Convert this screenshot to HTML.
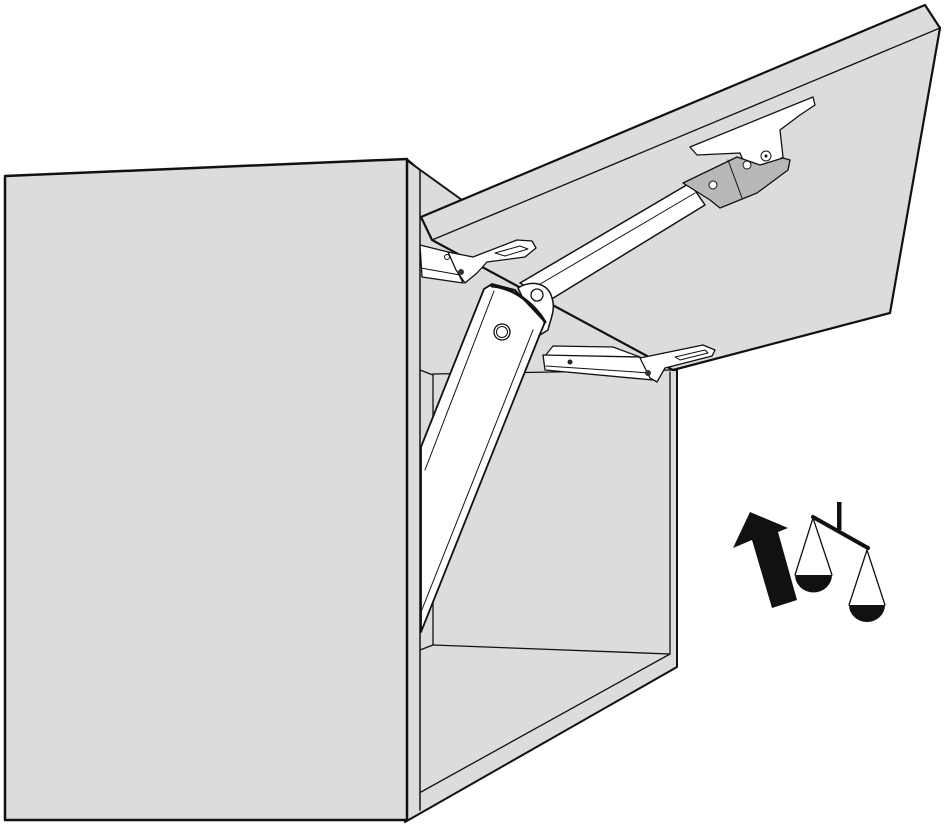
<!DOCTYPE html>
<html><head><meta charset="utf-8"><style>html,body{margin:0;padding:0;background:#fff}svg{display:block}</style></head>
<body>
<svg width="945" height="826" viewBox="0 0 945 826" xmlns="http://www.w3.org/2000/svg" stroke-linejoin="round" stroke-linecap="round">
<polygon points="405,159 462,200 673,370 677,370 677,667 405,822" fill="#dcdcdc" stroke="#111" stroke-width="2"/>
<line x1="420" y1="170" x2="420" y2="810" stroke="#111" stroke-width="1.5"/>
<line x1="407" y1="159" x2="420" y2="170" stroke="#111" stroke-width="1.5"/>
<line x1="433" y1="374" x2="433" y2="645" stroke="#111" stroke-width="1.3"/>
<line x1="420" y1="370" x2="433" y2="375" stroke="#111" stroke-width="1.3"/>
<line x1="433" y1="374" x2="675" y2="370" stroke="#111" stroke-width="1.3"/>
<line x1="420" y1="650" x2="433" y2="645" stroke="#111" stroke-width="1.3"/>
<line x1="433" y1="645" x2="670" y2="654" stroke="#111" stroke-width="1.3"/>
<line x1="421" y1="792" x2="670" y2="654" stroke="#111" stroke-width="1.3"/>
<line x1="670" y1="654" x2="670" y2="372" stroke="#111" stroke-width="1.3"/>
<polygon points="5,176 407,159 407,820 5,820" fill="#dcdcdc" stroke="#111" stroke-width="2.5"/>
<polygon points="421,217 925,5 940,28 890,313 673,370 432,240" fill="#dcdcdc" stroke="#111" stroke-width="2.2"/>
<line x1="432" y1="240" x2="940" y2="28" stroke="#111" stroke-width="1.3"/>
<polygon points="420,245 448,252 463,283 422,277" fill="#fff" stroke="#111" stroke-width="1.3"/>
<line x1="421" y1="268" x2="460" y2="275" stroke="#111" stroke-width="1"/>
<polygon points="448,252 473,257 517,240 532,241 536,248 525,257 487,262 477,273 465,283 456,270" fill="#fff" stroke="#111" stroke-width="1.3"/>
<path d="M495,253 L520,246 L528,249 L505,256 Z" fill="none" stroke="#111" stroke-width="1"/>
<circle cx="447" cy="257" r="2.5" fill="none" stroke="#111"/>
<circle cx="461" cy="272" r="3" fill="#333"/>
<polygon points="520,283 690,183 705,205 550,300" fill="#fff" stroke="#111" stroke-width="1.5"/>
<line x1="530" y1="290" x2="695" y2="193" stroke="#111" stroke-width="1"/>
<path d="M518,288 C530,280 548,282 552,298 C556,310 550,320 548,330 L540,335 Z" fill="#fff" stroke="#111" stroke-width="1.5"/>
<circle cx="537" cy="295" r="6" fill="#fff" stroke="#111" stroke-width="1.3"/>
<polygon points="421,447 484,289 492,284 515,290 545,322 540,334 421,632" fill="#fff" stroke="#111" stroke-width="1.8"/>
<line x1="494" y1="291" x2="425" y2="470" stroke="#111" stroke-width="1"/>
<line x1="533" y1="330" x2="421" y2="612" stroke="#111" stroke-width="1"/>
<path d="M492,286 C515,288 535,305 545,322" fill="none" stroke="#111" stroke-width="3"/>
<circle cx="502" cy="332" r="8" fill="#fff" stroke="#111" stroke-width="1.3"/>
<circle cx="502" cy="332" r="5.5" fill="none" stroke="#111" stroke-width="1"/>
<polygon points="690,147 813,97 815,105 800,115 780,130 783,157 760,172 747,170 740,153 697,155" fill="#fff" stroke="#111" stroke-width="1.3"/>
<polygon points="683,183 737,157 760,165 783,158 790,160 788,170 757,193 720,208 710,200" fill="#b8b8b8" stroke="#111" stroke-width="1.3"/>
<line x1="728" y1="160" x2="742" y2="198" stroke="#111" stroke-width="1"/>
<circle cx="713" cy="185" r="4" fill="#fff" stroke="#111"/>
<circle cx="747" cy="165" r="4" fill="#fff" stroke="#111"/>
<circle cx="766" cy="156" r="5" fill="#fff" stroke="#111"/>
<circle cx="766" cy="156" r="1.5" fill="#111"/>
<polygon points="553,346 613,347 640,357 545,356" fill="#fff" stroke="#111" stroke-width="1.2"/>
<polygon points="543,355 640,357 653,380 545,370" fill="#fff" stroke="#111" stroke-width="1.3"/>
<line x1="546" y1="366" x2="650" y2="373" stroke="#111" stroke-width="1"/>
<circle cx="570" cy="362" r="2.5" fill="#222"/>
<polygon points="640,358 703,345 715,350 712,356 665,368 657,382 650,378" fill="#fff" stroke="#111" stroke-width="1.3"/>
<path d="M675,357 L705,350 L708,353 L680,360 Z" fill="none" stroke="#111" stroke-width="1"/>
<circle cx="648" cy="373" r="3" fill="#333"/>
<polygon points="750,512 788,528 778,532 797,600 772,608 752,540 733,548" fill="#111"/>
<rect x="837" y="502" width="4.5" height="28" fill="#111"/>
<line x1="813" y1="517" x2="868" y2="548" stroke="#111" stroke-width="4"/>
<path d="M795,575 L813,518 L832,575" fill="none" stroke="#111" stroke-width="1.3"/>
<path d="M795,575 A18,17 0 0 0 832,575 Z" fill="#111"/>
<path d="M849,605 L867,550 L885,605" fill="none" stroke="#111" stroke-width="1.3"/>
<path d="M849,605 A18,17 0 0 0 885,605 Z" fill="#111"/>
</svg>
</body></html>
